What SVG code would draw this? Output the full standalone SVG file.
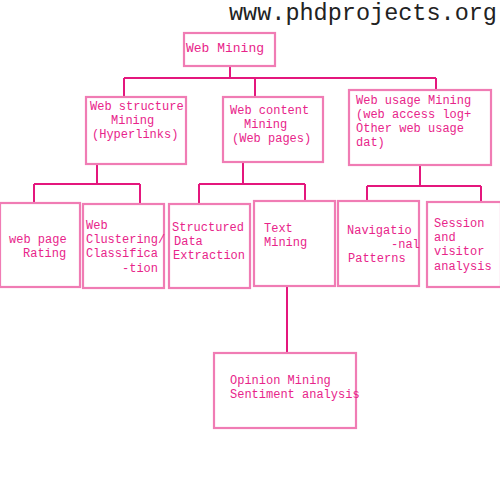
<svg xmlns="http://www.w3.org/2000/svg" width="500" height="500" viewBox="0 0 500 500">
<style>
.box{fill:#fff;stroke:#f07cb4;stroke-width:2.2}
.t{font-family:"Liberation Mono",monospace;font-size:12px;fill:#e8248a}
.c{fill:none;stroke:#e4177d;stroke-width:2}
</style>
<rect width="500" height="500" fill="#fff"/>
<text x="229" y="20" style="font-family:'Liberation Mono',monospace;font-size:23.5px;fill:#222">www.phdprojects.org</text>
<g id="connectors" class="c">
<path d="M230 66V78M124 78H436M124 78V97M255 78V97M436 78V90"/>
<path d="M97 164V184M34 184H140M34 184V203M140 184V204"/>
<path d="M243 162V184M199 184H305M199 184V204M305 184V201"/>
<path d="M420 165V186M367 186H481M367 186V201M481 186V202"/>
<path d="M287 286V353"/>
</g>
<g id="web-mining"><rect class="box" x="184" y="33" width="91" height="33"/><text class="t" x="186" y="52" style="font-size:13px">Web Mining</text></g>
<g id="web-structure"><rect class="box" x="86" y="97" width="100" height="67"/><text class="t" x="90" y="110">Web structure</text><text class="t" x="111" y="124">Mining</text><text class="t" x="92" y="138">(Hyperlinks)</text></g>
<g id="web-content"><rect class="box" x="223" y="97" width="100" height="65"/><text class="t" x="230" y="114">Web content</text><text class="t" x="244" y="128">Mining</text><text class="t" x="232" y="142">(Web pages)</text></g>
<g id="web-usage"><rect class="box" x="349" y="90" width="142" height="75"/><text class="t" x="356" y="104">Web usage Mining</text><text class="t" x="356" y="118">(web access log+</text><text class="t" x="356" y="132">Other web usage</text><text class="t" x="356" y="146">dat)</text></g>
<g id="web-page-rating"><rect class="box" x="0" y="203" width="80" height="84"/><text class="t" x="9" y="243">web page</text><text class="t" x="23" y="257">Rating</text></g>
<g id="web-clustering"><rect class="box" x="83" y="204" width="81" height="84"/><text class="t" x="86" y="229">Web</text><text class="t" x="86" y="243">Clustering/</text><text class="t" x="86" y="257">Classifica</text><text class="t" x="122" y="272">-tion</text></g>
<g id="structured-data"><rect class="box" x="169" y="204" width="81" height="84"/><text class="t" x="172" y="231">Structured</text><text class="t" x="174" y="245">Data</text><text class="t" x="173" y="259">Extraction</text></g>
<g id="text-mining"><rect class="box" x="254" y="201" width="81" height="85"/><text class="t" x="264" y="232">Text</text><text class="t" x="264" y="246">Mining</text></g>
<g id="navigational"><rect class="box" x="338" y="201" width="81" height="85"/><text class="t" x="347" y="234">Navigatio</text><text class="t" x="391" y="248">-nal</text><text class="t" x="348" y="262">Patterns</text></g>
<g id="session"><rect class="box" x="427" y="202" width="74" height="85"/><text class="t" x="434" y="227">Session</text><text class="t" x="434" y="241">and</text><text class="t" x="434" y="255">visitor</text><text class="t" x="434" y="270">analysis</text></g>
<g id="opinion"><rect class="box" x="214" y="353" width="142" height="75"/><text class="t" x="230" y="384">Opinion Mining</text><text class="t" x="230" y="398">Sentiment analysis</text></g>
</svg>
